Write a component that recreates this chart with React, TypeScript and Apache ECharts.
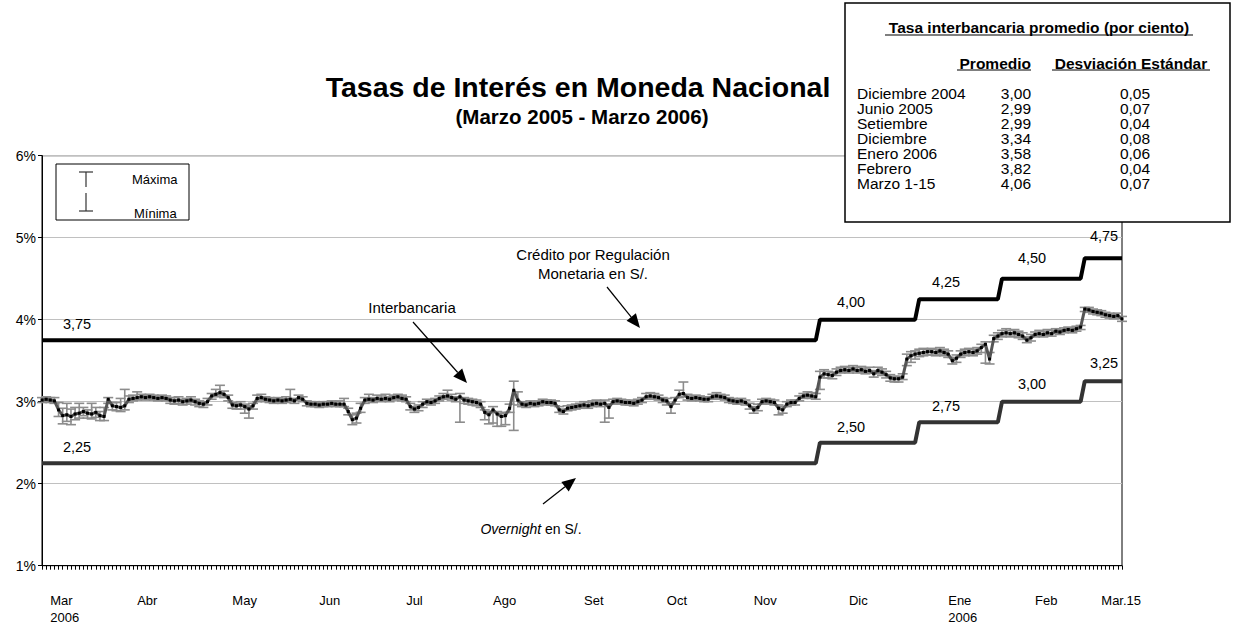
import React, { useEffect, useRef } from "react";
import * as echarts from "echarts";

const FONT = "'Liberation Sans', Arial, Helvetica, sans-serif";

// Daily interbank rate (average, max, min) – Mar 2005 to Mar 15 2006
const interbankAvg = [
  3.02, 3.03, 3.02, 3.01, 2.90, 2.83, 2.84, 2.82, 2.85, 2.86,
  2.88, 2.86, 2.85, 2.87, 2.83, 2.82, 3.03, 2.95, 2.94, 2.93,
  2.95, 3.03, 3.04, 3.05, 3.06, 3.05, 3.06, 3.05, 3.04, 3.05,
  3.04, 3.02, 3.01, 3.02, 3.00, 3.01, 3.02, 3.00, 2.98, 2.97,
  3.00, 3.07, 3.09, 3.11, 3.09, 3.05, 2.96, 2.95, 2.96, 2.94,
  2.91, 2.95, 3.04, 3.05, 3.03, 3.02, 3.01, 3.02, 3.01, 3.02,
  3.03, 3.01, 3.05, 3.03, 2.98, 2.97, 2.97, 2.96, 2.97, 2.97,
  2.98, 2.97, 2.97, 2.97, 2.88, 2.78, 2.80, 2.92, 3.02, 3.03,
  3.02, 3.04, 3.03, 3.04, 3.03, 3.05, 3.06, 3.04, 3.03, 2.94,
  2.91, 2.93, 2.97, 3.00, 2.99, 3.01, 3.04, 3.06, 3.07, 3.05,
  3.03, 3.06, 3.02, 3.01, 3.00, 2.99, 2.97, 2.87, 2.84, 2.90,
  2.85, 2.82, 2.83, 2.92, 3.14, 3.02, 2.97, 2.96, 2.98, 2.97,
  2.98, 3.00, 2.99, 2.99, 2.98, 2.90, 2.88, 2.92, 2.93, 2.94,
  2.95, 2.96, 2.95, 2.97, 2.98, 2.97, 2.98, 2.93, 3.00, 3.01,
  3.00, 2.99, 2.99, 2.98, 3.00, 3.02, 3.06, 3.07, 3.06, 3.05,
  3.02, 3.01, 2.94, 3.02, 3.09, 3.10, 3.05, 3.04, 3.05, 3.04,
  3.03, 3.03, 3.06, 3.07, 3.06, 3.05, 3.02, 3.01, 3.00, 3.01,
  2.99, 2.95, 2.90, 2.93, 3.00, 3.01, 3.00, 2.99, 2.92, 2.90,
  2.97, 2.99, 2.99, 3.04, 3.07, 3.08, 3.07, 3.06, 3.30, 3.34,
  3.33, 3.32, 3.36, 3.38, 3.39, 3.38, 3.40, 3.38, 3.39, 3.37,
  3.38, 3.34, 3.38, 3.36, 3.33, 3.29, 3.28, 3.28, 3.30, 3.52,
  3.56, 3.58, 3.59, 3.60, 3.61, 3.61, 3.60, 3.62, 3.60, 3.58,
  3.50, 3.53, 3.58, 3.60, 3.61, 3.60, 3.62, 3.66, 3.70, 3.52,
  3.77, 3.80, 3.83, 3.84, 3.83, 3.84, 3.82, 3.80, 3.75, 3.78,
  3.82, 3.83, 3.82, 3.84, 3.83, 3.86, 3.85, 3.87, 3.88, 3.87,
  3.89, 3.91, 4.13, 4.12, 4.10, 4.09, 4.08, 4.06, 4.05, 4.04,
  4.05, 4.01,
];

const interbankMax = [
  3.05, 3.06, 3.05, 3.05, 2.99, 2.92, 2.98, 2.91, 2.93, 2.98,
  2.93, 2.90, 2.98, 2.93, 2.88, 2.93, 3.05, 2.99, 2.99, 3.04,
  3.15, 3.07, 3.08, 3.12, 3.09, 3.08, 3.09, 3.08, 3.07, 3.08,
  3.07, 3.05, 3.05, 3.06, 3.03, 3.04, 3.06, 3.03, 3.01, 3.00,
  3.04, 3.10, 3.15, 3.20, 3.13, 3.08, 2.99, 2.98, 3.00, 2.97,
  2.95, 2.98, 3.08, 3.09, 3.06, 3.05, 3.04, 3.05, 3.04, 3.06,
  3.15, 3.04, 3.08, 3.06, 3.01, 3.00, 3.00, 2.99, 3.00, 3.00,
  3.01, 3.00, 3.01, 3.04, 2.92, 2.84, 2.86, 2.98, 3.05, 3.09,
  3.05, 3.08, 3.07, 3.09, 3.06, 3.08, 3.09, 3.08, 3.06, 2.98,
  2.94, 2.96, 3.00, 3.03, 3.02, 3.04, 3.07, 3.10, 3.14, 3.09,
  3.06, 3.10, 3.05, 3.04, 3.03, 3.02, 3.00, 2.90, 2.88, 2.94,
  2.88, 2.86, 2.87, 2.97, 3.25, 3.12, 3.00, 2.99, 3.01, 3.00,
  3.01, 3.03, 3.02, 3.02, 3.01, 2.94, 2.91, 2.95, 2.96, 2.97,
  2.98, 3.00, 2.99, 3.01, 3.02, 3.01, 3.02, 2.97, 3.03, 3.04,
  3.03, 3.02, 3.02, 3.01, 3.03, 3.05, 3.10, 3.11, 3.10, 3.08,
  3.05, 3.04, 2.98, 3.05, 3.14, 3.24, 3.09, 3.07, 3.08, 3.07,
  3.06, 3.06, 3.09, 3.11, 3.09, 3.08, 3.05, 3.04, 3.03, 3.04,
  3.02, 2.98, 2.94, 2.97, 3.03, 3.04, 3.03, 3.02, 2.96, 2.94,
  3.00, 3.02, 3.02, 3.07, 3.10, 3.12, 3.11, 3.10, 3.37, 3.39,
  3.37, 3.36, 3.40, 3.42, 3.43, 3.42, 3.44, 3.42, 3.43, 3.41,
  3.42, 3.38, 3.42, 3.40, 3.37, 3.33, 3.31, 3.31, 3.34, 3.58,
  3.61, 3.62, 3.64, 3.65, 3.64, 3.65, 3.64, 3.66, 3.64, 3.62,
  3.54, 3.57, 3.62, 3.64, 3.65, 3.64, 3.66, 3.70, 3.73, 3.60,
  3.81, 3.84, 3.87, 3.89, 3.87, 3.88, 3.86, 3.84, 3.79, 3.82,
  3.85, 3.87, 3.86, 3.88, 3.87, 3.89, 3.88, 3.90, 3.91, 3.90,
  3.92, 3.93, 4.15, 4.15, 4.13, 4.12, 4.11, 4.09, 4.08, 4.07,
  4.08, 4.04,
];

const interbankMin = [
  2.99, 3.00, 2.99, 2.98, 2.82, 2.73, 2.76, 2.72, 2.78, 2.80,
  2.83, 2.80, 2.79, 2.81, 2.77, 2.77, 2.98, 2.90, 2.89, 2.88,
  2.90, 2.99, 3.01, 3.02, 3.03, 3.02, 3.03, 3.02, 3.01, 3.02,
  3.01, 2.98, 2.97, 2.98, 2.96, 2.97, 2.99, 2.96, 2.94, 2.93,
  2.96, 3.03, 3.06, 3.07, 3.05, 3.01, 2.92, 2.91, 2.91, 2.86,
  2.80, 2.91, 3.00, 3.02, 3.00, 2.99, 2.98, 2.99, 2.98, 2.99,
  3.00, 2.98, 3.02, 3.00, 2.95, 2.94, 2.94, 2.93, 2.94, 2.94,
  2.95, 2.94, 2.94, 2.94, 2.84, 2.72, 2.74, 2.87, 2.98, 3.00,
  2.99, 3.01, 3.00, 3.01, 3.00, 3.02, 3.03, 3.01, 3.00, 2.90,
  2.87, 2.89, 2.93, 2.97, 2.96, 2.98, 3.01, 3.03, 3.04, 3.02,
  3.00, 2.75, 2.98, 2.97, 2.96, 2.95, 2.93, 2.78, 2.73, 2.74,
  2.70, 2.70, 2.72, 2.87, 2.65, 2.96, 2.94, 2.93, 2.95, 2.94,
  2.95, 2.97, 2.96, 2.96, 2.95, 2.87, 2.85, 2.89, 2.90, 2.91,
  2.92, 2.93, 2.92, 2.94, 2.95, 2.94, 2.75, 2.80, 2.97, 2.98,
  2.97, 2.96, 2.96, 2.95, 2.97, 2.99, 3.03, 3.04, 3.03, 3.02,
  2.99, 2.96, 2.86, 2.97, 3.05, 3.06, 3.02, 3.01, 3.02, 3.01,
  3.00, 3.00, 3.03, 3.04, 3.03, 3.02, 2.99, 2.98, 2.97, 2.98,
  2.96, 2.91, 2.86, 2.89, 2.97, 2.98, 2.97, 2.96, 2.84, 2.86,
  2.94, 2.96, 2.96, 3.01, 3.04, 3.05, 3.04, 3.03, 3.15, 3.29,
  3.29, 3.28, 3.32, 3.35, 3.36, 3.35, 3.37, 3.35, 3.36, 3.34,
  3.35, 3.30, 3.34, 3.32, 3.29, 3.25, 3.24, 3.24, 3.27, 3.44,
  3.48, 3.52, 3.55, 3.56, 3.57, 3.57, 3.56, 3.58, 3.56, 3.54,
  3.46, 3.48, 3.54, 3.56, 3.57, 3.56, 3.58, 3.60, 3.47, 3.46,
  3.73, 3.76, 3.79, 3.80, 3.79, 3.80, 3.78, 3.76, 3.72, 3.74,
  3.79, 3.80, 3.79, 3.81, 3.80, 3.83, 3.82, 3.84, 3.85, 3.84,
  3.86, 3.88, 4.10, 4.09, 4.07, 4.06, 4.05, 4.03, 4.02, 4.01,
  4.02, 3.98,
];

// Policy-rate corridor: index of first day of each level, and the levels
const stepStart = [0, 188, 212, 232, 252];
const creditRates = [3.75, 4.0, 4.25, 4.5, 4.75];
const overnightRates = [2.25, 2.5, 2.75, 3.0, 3.25];

// x-axis month labels (index of the day where each label sits)
const monthLabelIdx = [2, 23, 46, 67, 88, 109, 131, 151, 172, 195, 219, 240, 256];
const monthLabels = ["Mar\n2006", "Abr", "May", "Jun", "Jul", "Ago", "Set", "Oct", "Nov", "Dic", "Ene\n2006", "Feb", "Mar.15"];

// summary table
const tableRows = ["Diciembre 2004", "Junio 2005", "Setiembre", "Diciembre", "Enero 2006", "Febrero", "Marzo 1-15"];
const tableAvg = ["3,00", "2,99", "2,99", "3,34", "3,58", "3,82", "4,06"];
const tableStd = ["0,05", "0,07", "0,04", "0,08", "0,06", "0,04", "0,07"];

const categories = interbankAvg.map((_, i) => String(i + 1));

function stepSeries(levels: number[]) {
  return categories.map((_, i) => {
    let k = 0;
    for (let j = 0; j < stepStart.length; j++) if (i >= stepStart[j]) k = j;
    return levels[k];
  });
}

function arrow(x1: number, y1: number, x2: number, y2: number) {
  const dx = x2 - x1, dy = y2 - y1;
  const len = Math.sqrt(dx * dx + dy * dy);
  const ux = dx / len, uy = dy / len;
  const hl = 14, hw = 6;
  const bx = x2 - ux * hl, by = y2 - uy * hl;
  return [
    { type: "line", shape: { x1, y1, x2: bx, y2: by }, style: { stroke: "#000", lineWidth: 1.2 }, z: 100 },
    {
      type: "polygon",
      shape: { points: [[x2, y2], [bx - uy * hw, by + ux * hw], [bx + uy * hw, by - ux * hw]] },
      style: { fill: "#000" },
      z: 100,
    },
  ];
}

function txt(x: number, y: number, text: string, opts: any = {}) {
  return {
    type: "text",
    x,
    y,
    z: 101,
    style: {
      text,
      fontFamily: FONT,
      fontSize: opts.fontSize ?? 15,
      fontWeight: opts.fontWeight ?? "normal",
      fill: "#000",
      align: opts.align ?? "center",
      verticalAlign: "middle",
      ...(opts.extra || {}),
    },
  };
}

export default function App() {
  const ref = useRef<HTMLDivElement>(null);

  useEffect(() => {
    if (!ref.current) return;
    const chart = echarts.init(ref.current, undefined, { renderer: "svg" });

    const errData = interbankAvg.map((_, i) => [i, interbankMax[i], interbankMin[i]]);

    const graphic: any[] = [];
    // titles
    graphic.push(txt(578, 87, "Tasas de Interés en Moneda Nacional", { fontSize: 28.5, fontWeight: "bold" }));
    graphic.push(txt(582, 116, "(Marzo 2005 - Marzo 2006)", { fontSize: 20.5, fontWeight: "bold" }));

    // legend box
    graphic.push({ type: "rect", shape: { x: 56, y: 164, width: 133, height: 56 }, style: { fill: "#fff", stroke: "#000", lineWidth: 1 }, z: 99 });
    graphic.push({ type: "line", shape: { x1: 86, y1: 172, x2: 86, y2: 187 }, style: { stroke: "#333", lineWidth: 1.2 }, z: 100 });
    graphic.push({ type: "line", shape: { x1: 86, y1: 193, x2: 86, y2: 211 }, style: { stroke: "#333", lineWidth: 1.2 }, z: 100 });
    graphic.push({ type: "line", shape: { x1: 79, y1: 172, x2: 93, y2: 172 }, style: { stroke: "#333", lineWidth: 1.2 }, z: 100 });
    graphic.push({ type: "line", shape: { x1: 79, y1: 211, x2: 93, y2: 211 }, style: { stroke: "#333", lineWidth: 1.2 }, z: 100 });
    graphic.push(txt(132, 179, "Máxima", { fontSize: 13, align: "left" }));
    graphic.push(txt(134, 213, "Mínima", { fontSize: 13, align: "left" }));

    // table box
    graphic.push({ type: "rect", shape: { x: 845, y: 3, width: 385, height: 219 }, style: { fill: "#fff", stroke: "#000", lineWidth: 1.5 }, z: 99 });
    graphic.push(txt(1039, 27, "Tasa interbancaria promedio (por ciento)", { fontSize: 15.5, fontWeight: "bold" }));
    graphic.push({ type: "line", shape: { x1: 885, y1: 35, x2: 1193, y2: 35 }, style: { stroke: "#000", lineWidth: 1.2 }, z: 100 });
    graphic.push(txt(1031, 63, "Promedio", { fontSize: 15.5, fontWeight: "bold", align: "right" }));
    graphic.push({ type: "line", shape: { x1: 957, y1: 70, x2: 1031, y2: 70 }, style: { stroke: "#000", lineWidth: 1.2 }, z: 100 });
    graphic.push(txt(1131, 63, "Desviación Estándar", { fontSize: 15.5, fontWeight: "bold" }));
    graphic.push({ type: "line", shape: { x1: 1052, y1: 70, x2: 1210, y2: 70 }, style: { stroke: "#000", lineWidth: 1.2 }, z: 100 });
    tableRows.forEach((r, k) => {
      const y = 93 + k * 15;
      graphic.push(txt(857, y, r, { fontSize: 15.5, align: "left" }));
      graphic.push(txt(1031, y, tableAvg[k], { fontSize: 15.5, align: "right" }));
      graphic.push(txt(1135, y, tableStd[k], { fontSize: 15.5 }));
    });

    // annotations
    graphic.push(txt(593, 254, "Crédito por Regulación"));
    graphic.push(txt(593, 273, "Monetaria en S/."));
    graphic.push(...arrow(607, 287, 640, 328));
    graphic.push(txt(412, 307, "Interbancaria"));
    graphic.push(...arrow(413, 322, 467, 383));
    graphic.push({
      type: "text",
      x: 531,
      y: 529,
      z: 101,
      style: {
        text: "{i|Overnight}{n| en S/.}",
        align: "center",
        verticalAlign: "middle",
        rich: {
          i: { fontFamily: FONT, fontSize: 14, fontStyle: "italic", fill: "#000" },
          n: { fontFamily: FONT, fontSize: 14, fill: "#000" },
        },
      },
    });
    graphic.push(...arrow(543, 504, 576, 478));

    // step value labels
    const credLabelPos = [[77, 324], [851, 302], [946, 282], [1032, 258], [1104, 236]];
    const ovnLabelPos = [[77, 447], [851, 427], [946, 406], [1032, 384], [1104, 363]];
    creditRates.forEach((v, k) => graphic.push(txt(credLabelPos[k][0], credLabelPos[k][1], v.toFixed(2).replace(".", ","), { fontSize: 14.5 })));
    overnightRates.forEach((v, k) => graphic.push(txt(ovnLabelPos[k][0], ovnLabelPos[k][1], v.toFixed(2).replace(".", ","), { fontSize: 14.5 })));

    chart.setOption({
      animation: false,
      backgroundColor: "#fff",
      textStyle: { fontFamily: FONT },
      grid: {
        left: 42,
        right: 111,
        top: 155.7,
        bottom: 61.3,
        show: true,
        borderColor: "#000",
        borderWidth: 1,
        backgroundColor: "transparent",
      },
      xAxis: {
        type: "category",
        data: categories,
        boundaryGap: false,
        axisLine: { lineStyle: { color: "#000", width: 1 } },
        axisTick: { show: true, interval: 0, length: 4, lineStyle: { color: "#000", width: 1 } },
        splitLine: { show: false },
        axisLabel: {
          interval: (idx: number) => monthLabelIdx.includes(idx),
          formatter: (_v: string, idx: number) => {
            const k = monthLabelIdx.indexOf(idx);
            return k >= 0 ? monthLabels[k] : "";
          },
          align: "left",
          margin: 26,
          fontSize: 13,
          lineHeight: 17,
          color: "#000",
          fontFamily: FONT,
        },
      },
      yAxis: {
        type: "value",
        min: 1,
        max: 6,
        interval: 1,
        axisLine: { show: true, lineStyle: { color: "#000", width: 1 } },
        axisTick: { show: true, length: 4, lineStyle: { color: "#000" } },
        splitLine: { show: true, lineStyle: { color: "#c0c0c0", width: 1.2 } },
        axisLabel: { formatter: "{value}%", fontSize: 14, color: "#000", margin: 6, fontFamily: FONT },
      },
      graphic,
      series: [
        {
          type: "custom",
          name: "Rango",
          data: errData,
          encode: { x: 0, y: [1, 2] },
          z: 2,
          renderItem: (params: any, api: any) => {
            const i = api.value(0);
            const hi = api.coord([i, api.value(1)]);
            const lo = api.coord([i, api.value(2)]);
            const hw = 5;
            const st = { stroke: "#8c8c8c", lineWidth: 1.6, fill: null };
            return {
              type: "group",
              children: [
                { type: "line", shape: { x1: hi[0], y1: hi[1], x2: lo[0], y2: lo[1] }, style: st },
                { type: "line", shape: { x1: hi[0] - hw, y1: hi[1], x2: hi[0] + hw, y2: hi[1] }, style: st },
                { type: "line", shape: { x1: lo[0] - hw, y1: lo[1], x2: lo[0] + hw, y2: lo[1] }, style: st },
              ],
            };
          },
        },
        {
          type: "line",
          name: "Interbancaria",
          data: interbankAvg,
          z: 3,
          showAllSymbol: true,
          symbol: "rect",
          symbolSize: 3,
          itemStyle: { color: "#000" },
          lineStyle: { color: "#555", width: 3 },
        },
        {
          type: "line",
          name: "Crédito por Regulación Monetaria",
          data: stepSeries(creditRates),
          z: 4,
          symbol: "none",
          lineStyle: { color: "#000", width: 4 },
        },
        {
          type: "line",
          name: "Overnight",
          data: stepSeries(overnightRates),
          z: 4,
          symbol: "none",
          lineStyle: { color: "#333", width: 4 },
        },
      ],
    });

    return () => chart.dispose();
  }, []);

  return (
    <div
      ref={ref}
      style={{ position: "absolute", left: 0, top: 0, width: 1233, height: 627, background: "#fff" }}
    />
  );
}
